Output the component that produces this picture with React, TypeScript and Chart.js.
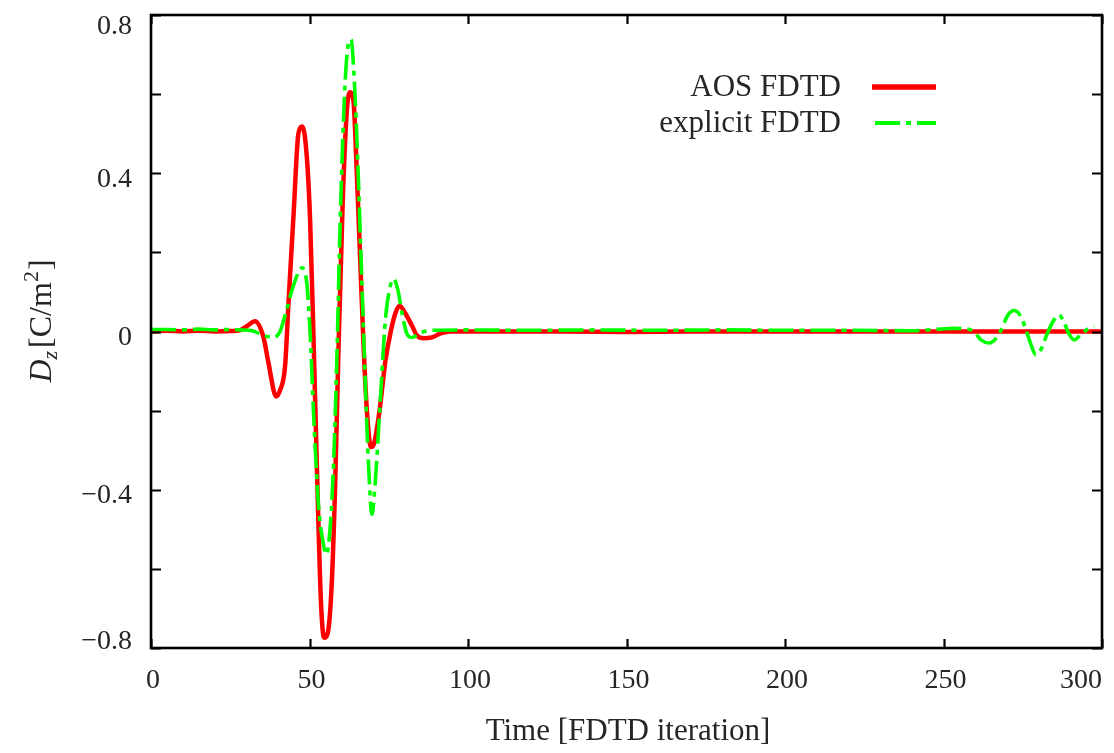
import React, { useEffect, useRef } from "react";
import { Chart, registerables } from "chart.js";

Chart.register(...registerables);

// ---- data ----
const seriesLabels = ["AOS FDTD", "explicit FDTD"];

const aosX = [0, 5, 10, 15, 20, 25, 28, 30.5, 32.8, 35.5, 37, 39.5, 40.7, 42.3, 43.4, 45, 46.5, 47.8, 49.2, 50.2, 51.3, 52.3, 53.6, 54.6, 55.7, 57, 58.1, 59.2, 60.5, 61.8, 62.8, 63.9, 64.9, 66, 67, 68.1, 69.4, 70.4, 72.1, 73.9, 75.5, 77.1, 78.4, 80.2, 82.3, 83.9, 86, 88.6, 91.3, 94.4, 110, 130, 150, 170, 190, 210, 230, 250, 270, 290, 300];
const aosY = [0, 0.002, 0, 0.002, 0, 0.001, 0.003, 0.015, 0.026, -0.015, -0.077, -0.164, -0.149, -0.087, 0.077, 0.3, 0.5, 0.518, 0.436, 0.28, -0.026, -0.333, -0.68, -0.774, -0.764, -0.64, -0.385, -0.026, 0.333, 0.56, 0.605, 0.58, 0.405, 0.18, -0.026, -0.2, -0.292, -0.282, -0.2, -0.077, -0.005, 0.046, 0.065, 0.046, 0.015, -0.01, -0.017, -0.015, -0.005, 0, 0, 0, -0.001, 0, 0, 0, 0, 0, 0, 0, 0];

const explicitX = [0, 5, 10, 15, 20, 25, 28, 32, 35.5, 38.6, 40.7, 42.8, 45, 47.6, 49.2, 50.2, 51.3, 52.8, 54.4, 55.3, 56.5, 57.6, 58.6, 59.7, 61, 62, 63.1, 64.1, 65.2, 66.5, 67.6, 68.6, 69.7, 70.7, 72.3, 73.9, 75.3, 76.5, 77.8, 79.2, 80.7, 82.3, 85, 89, 100, 120, 140, 160, 180, 200, 220, 240, 249, 253, 256.5, 258.6, 260.2, 261.8, 264.4, 267, 268.6, 270.2, 272.3, 274.4, 276, 277.6, 279.1, 280.7, 282.8, 284.9, 286.5, 288.1, 289.7, 291.2, 293.3, 295.5, 297.4];
const explicitY = [0.005, 0.005, 0.004, 0.006, 0.004, 0.005, 0.004, 0.002, -0.01, -0.015, 0, 0.056, 0.118, 0.161, 0.118, -0.005, -0.21, -0.436, -0.538, -0.564, -0.497, -0.333, -0.077, 0.282, 0.59, 0.713, 0.738, 0.64, 0.436, 0.128, -0.128, -0.333, -0.462, -0.385, -0.18, 0.026, 0.108, 0.133, 0.108, 0.046, -0.005, -0.015, -0.003, 0.003, 0.004, 0.003, 0.004, 0.003, 0.004, 0.003, 0.003, 0.002, 0.006, 0.008, 0.007, 0.004, -0.006, -0.021, -0.029, -0.013, 0.011, 0.04, 0.053, 0.038, 0.005, -0.033, -0.059, -0.046, -0.004, 0.03, 0.042, 0.021, -0.008, -0.021, -0.008, 0.006, 0.014];

const xTickValues = [0, 50, 100, 150, 200, 250, 300];
const yTickValues = [-0.8, -0.6, -0.4, -0.2, 0, 0.2, 0.4, 0.6, 0.8];
const yLabelValues = [-0.8, -0.4, 0, 0.4, 0.8];
const xTitle = "Time [FDTD iteration]";

const FONT = "'Liberation Serif', 'Times New Roman', serif";
const TEXT = "#262626";

function toPoints(xs: number[], ys: number[]) {
  return xs.map((x, i) => ({ x, y: ys[i] }));
}

function fmtY(v: number) {
  if (Math.abs(v) < 1e-9) return "0";
  return (v < 0 ? "\u2212" : "") + Math.abs(v).toFixed(1);
}

const decorPlugin = {
  id: "decor",
  afterDraw(chart: any) {
    const ctx = chart.ctx as CanvasRenderingContext2D;
    const { left, right, top, bottom } = chart.chartArea;
    const xs = chart.scales.x;
    const ys = chart.scales.y;
    ctx.save();
    ctx.strokeStyle = "#000";
    ctx.lineWidth = 2.2;
    ctx.lineCap = "butt";
    // tick marks (inward, mirrored)
    ctx.beginPath();
    for (const v of xTickValues) {
      const p = Math.round(xs.getPixelForValue(v)) + 0.5;
      ctx.moveTo(p, bottom);
      ctx.lineTo(p, bottom - 9);
      ctx.moveTo(p, top);
      ctx.lineTo(p, top + 9);
    }
    for (const v of yTickValues) {
      const p = Math.round(ys.getPixelForValue(v)) + 0.5;
      ctx.moveTo(left, p);
      ctx.lineTo(left + 10, p);
      ctx.moveTo(right, p);
      ctx.lineTo(right - 10, p);
    }
    ctx.stroke();
    // frame
    ctx.lineWidth = 2.6;
    ctx.strokeRect(left, top, right - left, bottom - top);

    ctx.fillStyle = TEXT;
    // x tick labels
    ctx.font = `28px ${FONT}`;
    ctx.textBaseline = "alphabetic";
    xTickValues.forEach((v, i) => {
      const p = xs.getPixelForValue(v);
      if (i === xTickValues.length - 1) {
        ctx.textAlign = "right";
        ctx.fillText(String(v), right, 688);
      } else {
        ctx.textAlign = "center";
        ctx.fillText(String(v), p + 2, 688);
      }
    });
    // y tick labels
    ctx.textAlign = "right";
    for (const v of yLabelValues) {
      let c = ys.getPixelForValue(v) + 4;
      c = Math.min(Math.max(c, top + 9), bottom - 9);
      ctx.fillText(fmtY(v), 132, c + 9.5);
    }

    // legend (text left, sample right)
    ctx.textAlign = "right";
    ctx.textBaseline = "middle";
    ctx.font = `31px ${FONT}`;
    const rows = [
      { y: 88, x0: 872, x1: 936 },
      { y: 124, x0: 875, x1: 936 },
    ];
    chart.data.datasets.forEach((ds: any, i: number) => {
      const r = rows[i];
      ctx.fillText(ds.label, 841, r.y);
      ctx.save();
      ctx.strokeStyle = ds.borderColor;
      ctx.lineWidth = i === 0 ? 5.5 : 4.2;
      ctx.setLineDash(ds.borderDash || []);
      ctx.beginPath();
      ctx.moveTo(r.x0, r.y - 1);
      ctx.lineTo(r.x1, r.y - 1);
      ctx.stroke();
      ctx.restore();
    });

    // x title
    ctx.textAlign = "center";
    ctx.textBaseline = "alphabetic";
    ctx.font = `31px ${FONT}`;
    ctx.fillText(xTitle, 628, 740);

    // y title: D_z [C/m^2]
    ctx.save();
    ctx.translate(51, 321);
    ctx.rotate(-Math.PI / 2);
    ctx.textAlign = "left";
    ctx.textBaseline = "alphabetic";
    const big = `32px ${FONT}`;
    const bigI = `italic 32px ${FONT}`;
    const smallI = `italic 22px ${FONT}`;
    const small = `22px ${FONT}`;
    const parts = [
      { t: "D", f: bigI, dy: 0, pre: 0 },
      { t: "z", f: smallI, dy: 6, pre: 0 },
      { t: "[C/m", f: big, dy: 0, pre: 3 },
      { t: "2", f: small, dy: -13, pre: 0 },
      { t: "]", f: big, dy: 0, pre: 1 },
    ];
    let total = 0;
    for (const p of parts) {
      ctx.font = p.f;
      total += ctx.measureText(p.t).width + p.pre;
    }
    let cx = -total / 2;
    for (const p of parts) {
      ctx.font = p.f;
      cx += p.pre;
      ctx.fillText(p.t, cx, p.dy);
      cx += ctx.measureText(p.t).width;
    }
    ctx.restore();
    ctx.restore();
  },
};

export default function App() {
  const ref = useRef<HTMLCanvasElement | null>(null);
  useEffect(() => {
    if (!ref.current) return;
    const chart = new Chart(ref.current, {
      type: "line",
      data: {
        datasets: [
          {
            label: seriesLabels[0],
            data: toPoints(aosX, aosY),
            borderColor: "#ff0000",
            backgroundColor: "#ff0000",
            borderWidth: 4.5,
            pointRadius: 0,
            cubicInterpolationMode: "monotone",
            order: 2,
          },
          {
            label: seriesLabels[1],
            data: toPoints(explicitX, explicitY),
            borderColor: "#00ff00",
            backgroundColor: "#00ff00",
            borderWidth: 3.6,
            borderDash: [25, 6, 5, 6],
            pointRadius: 0,
            cubicInterpolationMode: "monotone",
            order: 1,
          },
        ],
      } as any,
      options: {
        responsive: false,
        animation: false,
        events: [],
        layout: { padding: { left: 0, top: 15, right: 12, bottom: 0 } },
        plugins: {
          legend: { display: false },
          tooltip: { enabled: false },
          title: { display: false },
        },
        scales: {
          x: {
            type: "linear",
            min: 0,
            max: 300,
            afterBuildTicks: (s: any) => {
              s.ticks = xTickValues.map((v) => ({ value: v }));
            },
            afterFit: (s: any) => {
              s.height = 105;
              s.paddingLeft = 0;
              s.paddingRight = 0;
            },
            grid: { display: false, drawTicks: false },
            border: { display: false },
            ticks: { display: false },
          },
          y: {
            type: "linear",
            min: -0.8,
            max: 0.8,
            afterBuildTicks: (s: any) => {
              s.ticks = yLabelValues.map((v) => ({ value: v }));
            },
            afterFit: (s: any) => {
              s.width = 151;
              s.paddingTop = 0;
              s.paddingBottom = 0;
            },
            grid: { display: false, drawTicks: false },
            border: { display: false },
            ticks: { display: false },
          },
        },
      } as any,
      plugins: [decorPlugin],
    });
    return () => chart.destroy();
  }, []);
  return (
    <div style={{ position: "absolute", left: 0, top: 0, width: 1114, height: 753, background: "#fff" }}>
      <canvas ref={ref} width={1114} height={753} style={{ display: "block", width: 1114, height: 753 }} />
    </div>
  );
}
